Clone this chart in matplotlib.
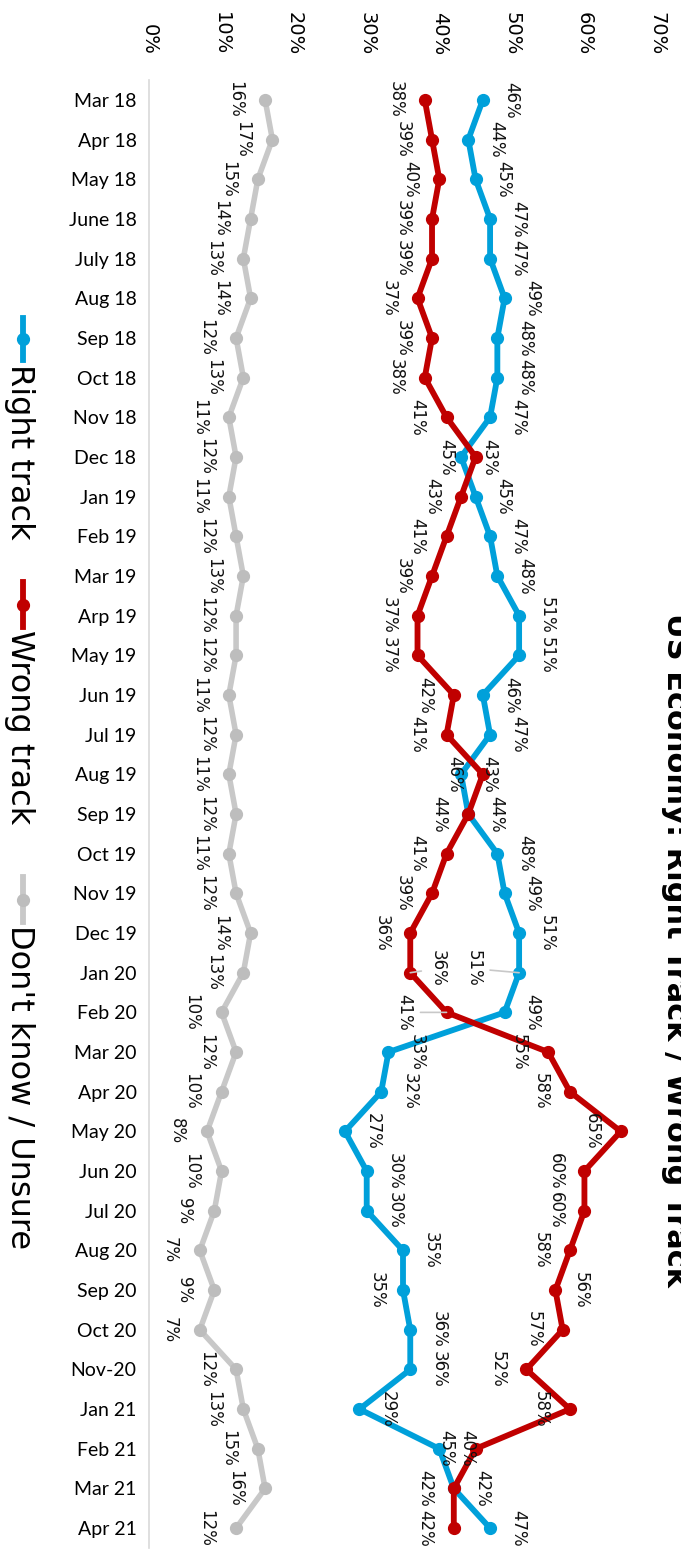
import matplotlib
matplotlib.use("Agg")
import matplotlib.pyplot as plt
from matplotlib.lines import Line2D

# data
months = ["Mar 18", "Apr 18", "May 18", "June 18", "July 18", "Aug 18", "Sep 18",
          "Oct 18", "Nov 18", "Dec 18", "Jan 19", "Feb 19", "Mar 19", "Arp 19",
          "May 19", "Jun 19", "Jul 19", "Aug 19", "Sep 19", "Oct 19", "Nov 19",
          "Dec 19", "Jan 20", "Feb 20", "Mar 20", "Apr 20", "May 20", "Jun 20",
          "Jul 20", "Aug 20", "Sep 20", "Oct 20", "Nov-20", "Jan 21", "Feb 21",
          "Mar 21", "Apr 21"]
right_track = [46, 44, 45, 47, 47, 49, 48, 48, 47, 43, 45, 47, 48, 51, 51, 46, 47, 43,
               44, 48, 49, 51, 51, 49, 33, 32, 27, 30, 30, 35, 35, 36, 36, 29, 40, 42, 47]
wrong_track = [38, 39, 40, 39, 39, 37, 39, 38, 41, 45, 43, 41, 39, 37, 37, 42, 41, 46,
               44, 41, 39, 36, 36, 41, 55, 58, 65, 60, 60, 58, 56, 57, 52, 58, 45, 42, 42]
dont_know = [16, 17, 15, 14, 13, 14, 12, 13, 11, 12, 11, 12, 13, 12, 12, 11, 12, 11,
             12, 11, 12, 14, 13, 10, 12, 10, 8, 10, 9, 7, 9, 7, 12, 13, 15, 16, 12]
pct_ticks = [0, 10, 20, 30, 40, 50, 60, 70]

title = "US Economy: Right Track / Wrong Track"
BLUE = "#00A0DA"
RED = "#C00000"
GREY = "#C8C8C8"
GREY_M = "#BDBDBD"

W, H = 681, 1550
fig = plt.figure(figsize=(W / 100, H / 100), dpi=100)
ax = fig.add_axes([149 / W, 1 - 1548 / H, (657 - 149) / W, (1548 - 80) / H])

y = list(range(len(months)))

ax.plot(dont_know, y, color=GREY, lw=4, marker="o", ms=8.5,
        mfc=GREY_M, mec=GREY_M, solid_capstyle="round", zorder=2)
ax.plot(right_track, y, color=BLUE, lw=4.2, marker="o", ms=8.5,
        solid_capstyle="round", zorder=3)
ax.plot(wrong_track, y, color=RED, lw=4.2, marker="o", ms=8.5,
        solid_capstyle="round", zorder=4)

# data labels (pixel offsets), a few moved by hand in the source
special = {("r", 22): (-45, 4), ("w", 22): (27, 4), ("w", 23): (-42, 0),
           ("r", 30): (-26, 0), ("w", 30): (25, 0)}
leaders = [("r", 22), ("w", 22), ("w", 23)]
for key, vals, dx in [("d", dont_know, -30), ("r", right_track, 28), ("w", wrong_track, -29)]:
    for i, v in enumerate(vals):
        off = special.get((key, i), (dx, 0))
        kw = {}
        if (key, i) in leaders:
            kw["arrowprops"] = dict(arrowstyle="-", color="#C8C8C8", lw=1.2,
                                    shrinkA=3, shrinkB=0)
        ax.annotate(f"{v}%", (v, i), xytext=off, textcoords="offset pixels",
                    rotation=-90, ha="center", va="center", fontsize=12,
                    color="#111111", zorder=6, **kw)

ax.set_xlim(0, 70)
ax.set_ylim(len(months) - 0.5, -0.5)
ax.set_xticks(pct_ticks)
ax.set_xticklabels([f"{t}%" for t in pct_ticks], rotation=-90, fontsize=14)
ax.xaxis.tick_top()
ax.tick_params(axis="x", length=0, pad=18)
ax.set_yticks(y)
ax.set_yticklabels(months, fontsize=14, family="Lato")
ax.tick_params(axis="y", length=0, pad=9)
for s in ["top", "right", "bottom"]:
    ax.spines[s].set_visible(False)
ax.spines["left"].set_color("#D9D9D9")
ax.spines["left"].set_linewidth(1.2)

# title, rotated and partly off the right edge like the source
fig.text(667 / W, 1 - 950 / H, title, rotation=-90, rotation_mode="anchor",
         ha="center", va="baseline", fontsize=22, fontweight="bold")

# legend, drawn by hand because it is turned on its side
legend = [("Right track", BLUE, BLUE, 318, 360, 339, 364),
          ("Wrong track", RED, RED, 582, 627, 605, 630),
          ("Don't know / Unsure", GREY, GREY_M, 877, 922, 900, 925)]
for name, lc, mc, y1, y2, ym, yt in legend:
    fig.add_artist(Line2D([23 / W, 23 / W], [1 - y1 / H, 1 - y2 / H],
                          transform=fig.transFigure, color=lc, lw=4.2))
    fig.add_artist(Line2D([23 / W], [1 - ym / H], transform=fig.transFigure,
                          marker="o", ms=8.5, color=mc, lw=0))
    fig.text(11 / W, 1 - yt / H, name, rotation=-90, rotation_mode="anchor",
             ha="left", va="baseline", fontsize=23)

fig.savefig("out.png", dpi=100)
